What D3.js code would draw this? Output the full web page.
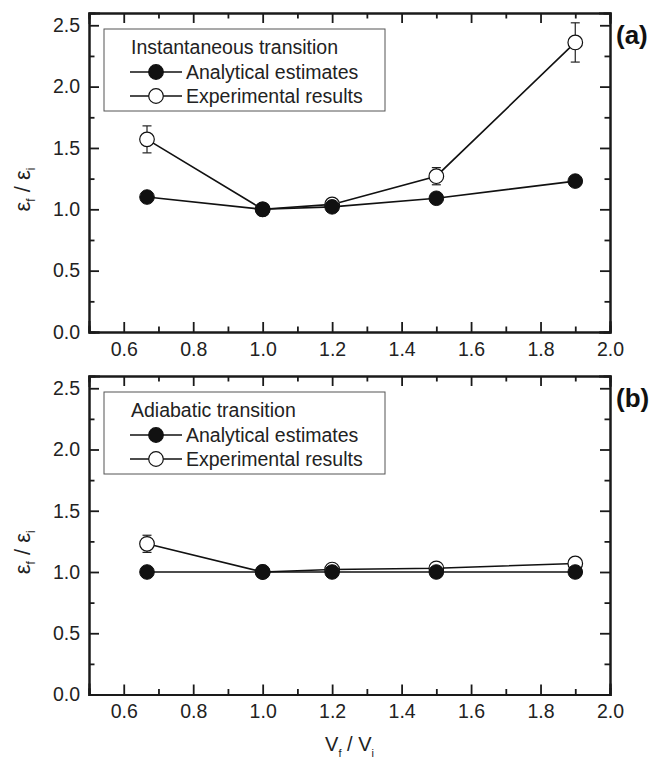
<!DOCTYPE html>
<html>
<head>
<meta charset="utf-8">
<script src="https://cdn.jsdelivr.net/npm/d3@7"></script>
<style>
  html, body { margin: 0; padding: 0; background: #fff; }
  svg { display: block; font-family: "Liberation Sans", Arial, sans-serif; }
</style>
</head>
<body>
<svg id="chart" width="658" height="765"></svg>
<script>
// ---- data ----
const ratioV = [0.667, 1.0, 1.2, 1.5, 1.9];

const instAnalytical = [1.10, 1.00, 1.02, 1.09, 1.23];
const instExperimental = [1.57, 1.00, 1.04, 1.27, 2.36];
const instExpError = [0.11, 0.02, 0.03, 0.07, 0.16];

const adiaAnalytical = [1.00, 1.00, 1.00, 1.00, 1.00];
const adiaExperimental = [1.23, 1.00, 1.02, 1.03, 1.07];
const adiaExpError = [0.07, 0.02, 0.02, 0.03, 0.04];

const xTicks = [0.6, 0.8, 1.0, 1.2, 1.4, 1.6, 1.8, 2.0];
const xMinorTicks = [0.5, 0.7, 0.9, 1.1, 1.3, 1.5, 1.7, 1.9];
const yTicks = [0.0, 0.5, 1.0, 1.5, 2.0, 2.5];
const yMinorTicks = [0.25, 0.75, 1.25, 1.75, 2.25];

const panels = [
  { tag: "(a)", title: "Instantaneous transition", analytical: instAnalytical, experimental: instExperimental, err: instExpError, top: 13, bottom: 332 },
  { tag: "(b)", title: "Adiabatic transition", analytical: adiaAnalytical, experimental: adiaExperimental, err: adiaExpError, top: 376, bottom: 694.5 }
];
const legendLabels = ["Analytical estimates", "Experimental results"];

// ---- drawing ----
const svg = d3.select("#chart");
const left = 89, right = 610;
const x = d3.scaleLinear().domain([0.5, 2.0]).range([left, right]);
const fontSize = 19.5;

panels.forEach((p, pi) => {
  const y = d3.scaleLinear().domain([0, 2.6]).range([p.bottom, p.top]);
  const g = svg.append("g");

  // axes
  const axB = d3.axisBottom(x).tickValues(xTicks).tickSize(-10).tickPadding(10).tickFormat(d3.format(".1f"));
  const axBm = d3.axisBottom(x).tickValues(xMinorTicks).tickSize(-5.5).tickFormat("");
  const axT = d3.axisTop(x).tickValues(xTicks).tickSize(-10).tickFormat("");
  const axTm = d3.axisTop(x).tickValues(xMinorTicks).tickSize(-5.5).tickFormat("");
  const axL = d3.axisLeft(y).tickValues(yTicks).tickSize(-10).tickPadding(9).tickFormat(d3.format(".1f"));
  const axLm = d3.axisLeft(y).tickValues(yMinorTicks).tickSize(-5.5).tickFormat("");
  const axR = d3.axisRight(y).tickValues(yTicks).tickSize(-10).tickFormat("");
  const axRm = d3.axisRight(y).tickValues(yMinorTicks).tickSize(-5.5).tickFormat("");

  const addAxis = (ax, tr) => {
    const a = g.append("g").attr("transform", tr).call(ax);
    a.selectAll("path.domain").attr("stroke", "#1a1a1a").attr("stroke-width", 2);
    a.selectAll(".tick line").attr("stroke", "#1a1a1a").attr("stroke-width", 1.8);
    a.selectAll("text").attr("font-size", fontSize).attr("font-family", "Liberation Sans, Arial, sans-serif").attr("fill", "#222");
    return a;
  };
  addAxis(axBm, `translate(0,${p.bottom})`);
  addAxis(axB, `translate(0,${p.bottom})`);
  addAxis(axTm, `translate(0,${p.top})`);
  addAxis(axT, `translate(0,${p.top})`);
  addAxis(axLm, `translate(${left},0)`);
  addAxis(axL, `translate(${left},0)`);
  addAxis(axRm, `translate(${right},0)`);
  addAxis(axR, `translate(${right},0)`);
  g.selectAll("path.domain").attr("stroke-linecap", "square");

  // y title
  const ymid = (p.top + p.bottom) / 2 + 17;
  const yt = g.append("text")
    .attr("transform", `translate(30,${ymid}) rotate(-90)`)
    .attr("text-anchor", "middle")
    .attr("font-size", 22).attr("fill", "#222");
  yt.append("tspan").text("ε");
  yt.append("tspan").attr("font-size", 12).attr("dy", 5).text("f");
  yt.append("tspan").attr("dy", -5).text(" / ε");
  yt.append("tspan").attr("font-size", 12).attr("dy", 5).text("i");

  // panel tag
  g.append("text").attr("x", 616).attr("y", p.top + 31)
    .attr("font-size", 26).attr("font-weight", "bold").attr("fill", "#111")
    .text(p.tag);

  // data
  const pts = (vals) => ratioV.map((v, i) => [x(v), y(vals[i])]);
  const line = d3.line();

  const expPts = pts(p.experimental);
  const anaPts = pts(p.analytical);

  g.append("path").attr("d", line(expPts)).attr("fill", "none").attr("stroke", "#111").attr("stroke-width", 1.6);
  g.append("path").attr("d", line(anaPts)).attr("fill", "none").attr("stroke", "#111").attr("stroke-width", 1.6);

  // error bars
  ratioV.forEach((v, i) => {
    const cx = x(v), y1 = y(p.experimental[i] + p.err[i]), y2 = y(p.experimental[i] - p.err[i]);
    const eg = g.append("g").attr("stroke", "#222").attr("stroke-width", 1.2);
    eg.append("line").attr("x1", cx).attr("x2", cx).attr("y1", y1).attr("y2", y2);
    eg.append("line").attr("x1", cx - 4.5).attr("x2", cx + 4.5).attr("y1", y1).attr("y2", y1);
    eg.append("line").attr("x1", cx - 4.5).attr("x2", cx + 4.5).attr("y1", y2).attr("y2", y2);
  });

  g.selectAll("circle.exp").data(expPts).enter().append("circle")
    .attr("class", "exp").attr("cx", d => d[0]).attr("cy", d => d[1]).attr("r", 7.3)
    .attr("fill", "#fff").attr("stroke", "#111").attr("stroke-width", 1.2);
  g.selectAll("circle.ana").data(anaPts).enter().append("circle")
    .attr("class", "ana").attr("cx", d => d[0]).attr("cy", d => d[1]).attr("r", 7.3)
    .attr("fill", "#111").attr("stroke", "#111").attr("stroke-width", 1);

  // legend
  const lx = 104, ly = p.top + 16;
  const lg = g.append("g").attr("transform", `translate(${lx},${ly})`);
  lg.append("rect").attr("x", 0).attr("y", 0).attr("width", 281).attr("height", 82)
    .attr("fill", "#fff").attr("stroke", "#555").attr("stroke-width", 1);
  lg.append("text").attr("x", 27).attr("y", 25).attr("font-size", 19.5).attr("fill", "#222").text(p.title);
  [0, 1].forEach(k => {
    const ry = 43 + k * 24;
    lg.append("line").attr("x1", 26).attr("x2", 78).attr("y1", ry).attr("y2", ry)
      .attr("stroke", "#111").attr("stroke-width", 1.6);
    lg.append("circle").attr("cx", 52).attr("cy", ry).attr("r", 7.3)
      .attr("fill", k === 0 ? "#111" : "#fff").attr("stroke", "#111").attr("stroke-width", 1.2);
    lg.append("text").attr("x", 82).attr("y", ry + 6.5).attr("font-size", 19.5).attr("fill", "#222").text(legendLabels[k]);
  });
});

// x title
const xt = svg.append("text").attr("x", (left + right) / 2).attr("y", 751)
  .attr("text-anchor", "middle").attr("font-size", 20).attr("fill", "#222");
xt.append("tspan").text("V");
xt.append("tspan").attr("font-size", 11).attr("dy", 6).text("f");
xt.append("tspan").attr("dy", -6).text(" / V");
xt.append("tspan").attr("font-size", 11).attr("dy", 6).text("i");
</script>
</body>
</html>
